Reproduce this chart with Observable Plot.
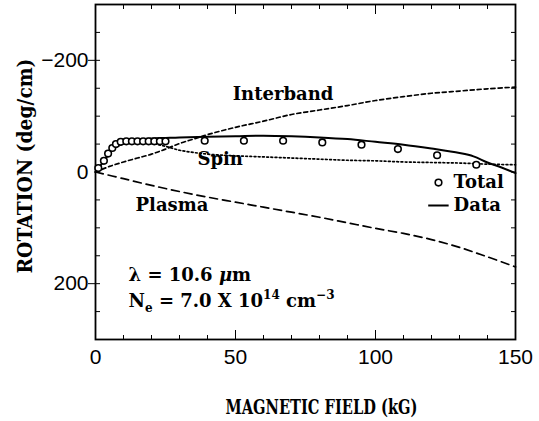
<!DOCTYPE html>
<html><head><meta charset="utf-8">
<script src="https://cdn.jsdelivr.net/npm/d3@7"></script>
<script src="https://cdn.jsdelivr.net/npm/@observablehq/plot@0.6"></script>
<style>body{margin:0;background:#fff}</style>
</head><body><div id="chart"></div>
<script>
// ---- data ----
const dataField = [0, 2, 4, 6, 8, 10, 15, 20, 25, 30, 40, 50, 60, 70, 80, 90, 100, 110, 120, 130, 135, 140, 145, 150];
const dataRot   = [0, -13, -27, -40, -49, -54, -58, -60, -61, -62, -63, -64, -65, -64, -62, -59, -54, -49, -42, -34, -28, -17, -8, 2];

const totalField = [1, 3, 4.5, 6, 7.3, 9, 11, 13, 15, 17, 19, 21, 23, 25, 39, 53, 67, 81, 95, 108, 122, 136];
const totalRot   = [-7, -20, -33, -43, -50, -54, -55, -55, -55, -55, -55, -55, -55, -55, -56, -56, -56, -53, -49, -41, -30, -13];

const spinField = [0, 2, 4, 6, 8, 10, 15, 20, 25, 30, 35, 40, 50, 60, 70, 80, 90, 100, 110, 120, 130, 140, 150];
const spinRot   = [0, -13, -27, -39, -46, -50, -52, -51, -46, -39, -35, -32, -29, -27, -25, -23, -21, -20, -18, -17, -16, -14, -13];

const interbandField = [0, 5, 10, 15, 20, 25, 30, 35, 40, 50, 60, 70, 80, 90, 100, 110, 120, 130, 140, 150];
const interbandRot   = [0, -10, -18, -25, -32, -41, -51, -59, -67, -80, -91, -103, -111, -119, -128, -135, -141, -145, -149, -152];

const plasmaField = [0, 10, 20, 30, 40, 50, 60, 70, 80, 90, 100, 110, 120, 130, 140, 150];
const plasmaRot   = [0, 12, 24, 35, 45, 54, 63, 72, 81, 91, 101, 110, 121, 135, 152, 170];

const xMajorTicks = [0, 50, 100, 150];
const xMinorTicks = [0, 10, 20, 30, 40, 50, 60, 70, 80, 90, 100, 110, 120, 130, 140, 150];
const yMajorTicks = [-200, 0, 200];
const yOuterTicks = [-200, 200];
const yMinorTicks = [-300, -250, -200, -150, -100, -50, 0, 50, 100, 150, 200, 250, 300];

const labels = {
  x: "MAGNETIC FIELD (kG)",
  y: "ROTATION (deg/cm)",
  interband: "Interband", spin: "Spin", plasma: "Plasma",
  total: "Total", data: "Data",
  lambda: "λ = 10.6 μm",
  density: "Nₑ = 7.0 X 10¹⁴ cm⁻³"
};

const rows = (xs, ys) => xs.map((x, i) => ({x, y: ys[i]}));
const serif = "DejaVu Serif";
const noText = () => "";

const svg = Plot.plot({
  width: 539, height: 421,
  marginLeft: 95, marginRight: 24, marginTop: 4, marginBottom: 82,
  style: {fontFamily: "Liberation Sans", background: "white", color: "black"},
  x: {domain: [0, 150]},
  y: {domain: [-300, 300], reverse: true},
  marks: [
    // axes
    Plot.axisX({ticks: xMajorTicks, tickSize: 0, tickPadding: 10, fontSize: 21, tickFormat: d => String(d), label: null}),
    Plot.axisX({ticks: xMinorTicks, tickSize: -4, tickFormat: noText, label: null}),
    Plot.axisX({ticks: xMajorTicks, tickSize: -9, tickFormat: noText, label: null}),
    Plot.axisX({anchor: "top", ticks: xMinorTicks, tickSize: -4, tickFormat: noText, label: null}),
    Plot.axisX({anchor: "top", ticks: xMajorTicks, tickSize: -9, tickFormat: noText, label: null}),
    Plot.axisY({ticks: yMajorTicks, tickSize: 0, tickPadding: 7, fontSize: 21, label: null}),
    Plot.axisY({ticks: yMinorTicks, tickSize: -5, tickFormat: noText, label: null}),
    Plot.axisY({ticks: yOuterTicks, tickSize: 7, tickFormat: noText, label: null}),
    Plot.axisY({anchor: "right", ticks: yMinorTicks, tickSize: -5, tickFormat: noText, label: null}),
    Plot.frame({stroke: "black", strokeWidth: 1.8}),
    // curves
    Plot.line(rows(plasmaField, plasmaRot), {x: "x", y: "y", stroke: "black", strokeWidth: 1.7, strokeDasharray: "8,5", curve: "catmull-rom"}),
    Plot.line(rows(interbandField, interbandRot), {x: "x", y: "y", stroke: "black", strokeWidth: 1.7, strokeDasharray: "4,3", curve: "catmull-rom"}),
    Plot.line(rows(spinField, spinRot), {x: "x", y: "y", stroke: "black", strokeWidth: 1.7, strokeDasharray: "1.8,2.4", curve: "catmull-rom"}),
    Plot.line(rows(dataField, dataRot), {x: "x", y: "y", stroke: "black", strokeWidth: 2, curve: "catmull-rom"}),
    Plot.dot(rows(totalField, totalRot), {x: "x", y: "y", r: 3.3, stroke: "black", strokeWidth: 1.6, fill: "white"}),
    // annotations
    Plot.text([labels.interband], {x: 49, y: -140, text: d => d, textAnchor: "start", fontFamily: serif, fontWeight: "bold", fontSize: 18}),
    Plot.text([labels.spin], {x: 36.4, y: -23, text: d => d, textAnchor: "start", fontFamily: serif, fontWeight: "bold", fontSize: 18}),
    Plot.text([labels.plasma], {x: 14.3, y: 60, text: d => d, textAnchor: "start", fontFamily: serif, fontWeight: "bold", fontSize: 18}),
    Plot.text([labels.lambda], {x: 11.8, y: 185, text: d => d, textAnchor: "start", fontFamily: serif, fontWeight: "bold", fontSize: 18}),
    Plot.text([labels.density], {x: 11.8, y: 232, text: d => d, textAnchor: "start", fontFamily: serif, fontWeight: "bold", fontSize: 18}),
    // legend
    Plot.dot([labels.total], {x: 122.5, y: 19, r: 3.3, stroke: "black", strokeWidth: 1.6, fill: "white"}),
    Plot.text([labels.total], {x: 127.9, y: 19, text: d => d, textAnchor: "start", fontFamily: serif, fontWeight: "bold", fontSize: 18}),
    Plot.ruleY([60], {x1: 119, x2: 126.3, stroke: "black", strokeWidth: 2}),
    Plot.text([labels.data], {x: 127.9, y: 60, text: d => d, textAnchor: "start", fontFamily: serif, fontWeight: "bold", fontSize: 18}),
    // axis titles
    Plot.text([labels.x], {frameAnchor: "bottom", textAnchor: "middle", lineAnchor: "middle", dx: 16, dy: 68, text: d => d, fontFamily: serif, fontWeight: "bold", fontSize: 20}),
    Plot.text([labels.y], {frameAnchor: "left", textAnchor: "middle", lineAnchor: "middle", dx: -70, dy: -6, rotate: -90, text: d => d, fontFamily: serif, fontWeight: "bold", fontSize: 21})
  ]
});

document.getElementById("chart").appendChild(svg);

// fine typography: sub/superscripts, italic mu, label widths
function rich(node, parts) {
  const sel = d3.select(node);
  sel.text("");
  let shift = 0;
  for (const p of parts) {
    const target = p.sup ? -8 : p.sub ? 5 : 0;
    const ts = sel.append("tspan").text(p.t).attr("dy", target - shift);
    if (p.sup || p.sub) ts.attr("font-size", 12);
    if (p.italic) ts.attr("font-style", "italic");
    shift = target;
  }
}
d3.select(svg).selectAll("text").each(function () {
  const t = this.textContent;
  if (t === labels.lambda) {
    rich(this, [{t: "λ = 10.6 "}, {t: "μ", italic: true}, {t: "m"}]);
  } else if (t === labels.density) {
    rich(this, [{t: "N"}, {t: "e", sub: true}, {t: " = 7.0 X 10"}, {t: "14", sup: true}, {t: " cm"}, {t: "−3", sup: true}]);
  } else if (t === labels.x) {
    d3.select(this).attr("textLength", 192).attr("lengthAdjust", "spacingAndGlyphs");
  } else if (t === labels.y) {
    d3.select(this).attr("textLength", 215).attr("lengthAdjust", "spacingAndGlyphs");
  }
});
</script>
</body></html>
